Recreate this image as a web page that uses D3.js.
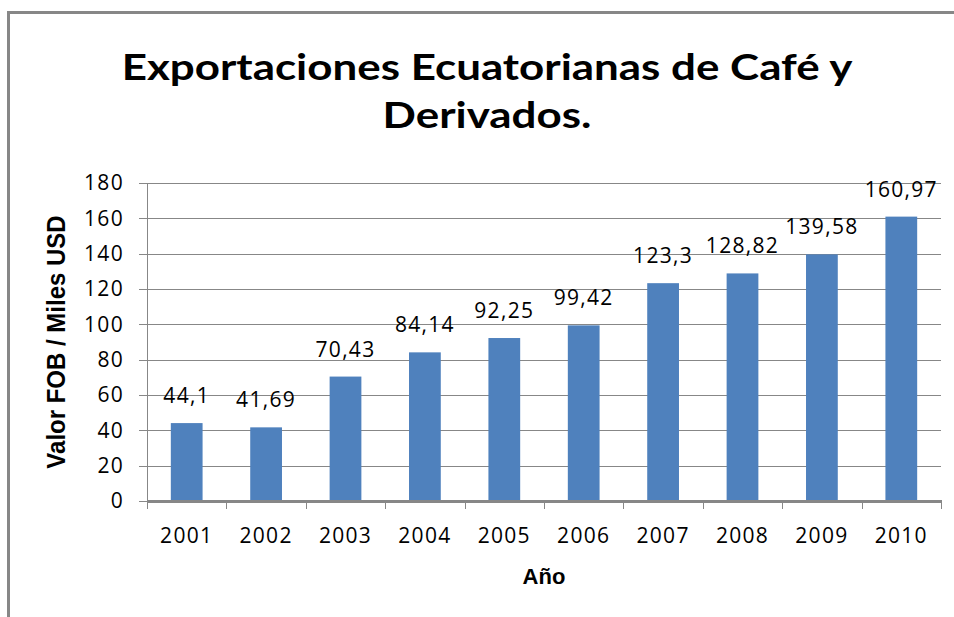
<!DOCTYPE html>
<meta charset="utf-8">
<head>
  <script src="https://cdn.jsdelivr.net/npm/d3@7"></script>
  <style>
    body { margin: 0; background: #fff; }
    .tick text { font-family: "Open Sans", sans-serif; font-size: 21px; letter-spacing: 1.3px; fill: #000; }
    .grid line { stroke: #878787; stroke-width: 1; shape-rendering: crispEdges; }
    .grid path { display: none; }
    .ejes path, .ejes line { stroke: #878787; shape-rendering: crispEdges; }
  </style>
</head>
<body>
<script>

// Datos del grafico
var anios = ["2001","2002","2003","2004","2005","2006","2007","2008","2009","2010"];
var valores = [44.1, 41.69, 70.43, 84.14, 92.25, 99.42, 123.3, 128.82, 139.58, 160.97];
var etiquetas = ["44,1","41,69","70,43","84,14","92,25","99,42","123,3","128,82","139,58","160,97"];
var ticksY = [0, 20, 40, 60, 80, 100, 120, 140, 160, 180];
var tituloLineas = ["Exportaciones Ecuatorianas de Café y", "Derivados."];

var W = 954, H = 617;
var margin = {top: 183, right: 13, bottom: 116, left: 147};
var w = W - margin.left - margin.right,
    h = H - margin.top - margin.bottom;

var svg = d3.select("body").append("svg")
  .attr("width", W)
  .attr("height", H);

// marco gris
svg.append("rect")
  .attr("x", 8.5).attr("y", 12.5)
  .attr("width", W + 20).attr("height", H + 20)
  .attr("fill", "none")
  .attr("stroke", "#878787")
  .attr("stroke-width", 3);

var g = svg.append("g").attr("transform", "translate(" + margin.left + "," + margin.top + ")");

var x = d3.scaleBand().domain(anios).range([0, w]).paddingInner(0.6).paddingOuter(0.3);
var xBordes = d3.scaleLinear().domain([0, anios.length]).range([0, w]);
var y = d3.scaleLinear().domain([0, 180]).range([h, 0]);

// lineas de cuadricula
g.append("g").attr("class", "grid")
  .call(d3.axisLeft(y).tickValues(ticksY).tickSize(-w).tickFormat(""))
  .selectAll(".tick").filter(function(d){ return d === 0; }).remove();

// eje Y con etiquetas
var ejeY = g.append("g").attr("class", "ejes")
  .call(d3.axisLeft(y).tickValues(ticksY).tickSize(8).tickSizeOuter(0).tickPadding(15));
ejeY.select(".domain").attr("stroke-width", 1.5);

// barras
g.selectAll("rect.barra")
  .data(valores)
  .enter()
  .append("rect")
  .attr("class", "barra")
  .attr("x", function(d, i){ return x(anios[i]); })
  .attr("y", function(d){ return y(d); })
  .attr("width", x.bandwidth())
  .attr("height", function(d){ return h - y(d); })
  .attr("fill", "#4F81BD");

// eje X: marcas en los bordes
var ejeX = g.append("g").attr("class", "ejes")
  .attr("transform", "translate(0," + h + ")")
  .call(d3.axisBottom(xBordes).tickValues(d3.range(anios.length + 1)).tickSize(8).tickSizeOuter(0).tickFormat(""));
ejeX.select(".domain").attr("stroke-width", 2.5);

// eje X: etiquetas
g.append("g")
  .attr("transform", "translate(0," + h + ")")
  .call(d3.axisBottom(x).tickSize(0).tickPadding(27))
  .call(function(s){ s.select(".domain").remove(); });

// etiquetas de datos
g.selectAll("text.dato")
  .data(valores)
  .enter()
  .append("text")
  .attr("class", "dato")
  .attr("x", function(d, i){ return x(anios[i]) + x.bandwidth() / 2; })
  .attr("y", function(d){ return y(d) - 20; })
  .attr("text-anchor", "middle")
  .style("font-family", "'Open Sans', sans-serif")
  .style("font-size", "21px")
  .style("letter-spacing", "1.3px")
  .text(function(d, i){ return etiquetas[i]; });

// titulo (ligeramente ensanchado como en el original)
svg.selectAll("text.titulo")
  .data(tituloLineas)
  .enter()
  .append("text")
  .attr("class", "titulo")
  .attr("transform", function(d, i){ return "translate(487," + (80 + i * 48) + ") scale(1.22,1)"; })
  .attr("text-anchor", "middle")
  .style("font-family", "Lato, sans-serif")
  .style("font-weight", "bold")
  .style("font-size", "36px")
  .text(function(d){ return d; });

// titulos de ejes
svg.append("text")
  .attr("x", margin.left + w / 2)
  .attr("y", 584)
  .attr("text-anchor", "middle")
  .style("font-family", "'Liberation Sans', Arial, sans-serif")
  .style("font-weight", "bold")
  .style("font-size", "22px")
  .text("Año");

svg.append("text")
  .attr("transform", "translate(65," + (margin.top + h / 2) + ") scale(1.1,1) rotate(-90)")
  .attr("text-anchor", "middle")
  .style("font-family", "'Liberation Sans', Arial, sans-serif")
  .style("font-weight", "bold")
  .style("font-size", "24px")
  .text("Valor FOB / Miles USD");

</script>
</body>
